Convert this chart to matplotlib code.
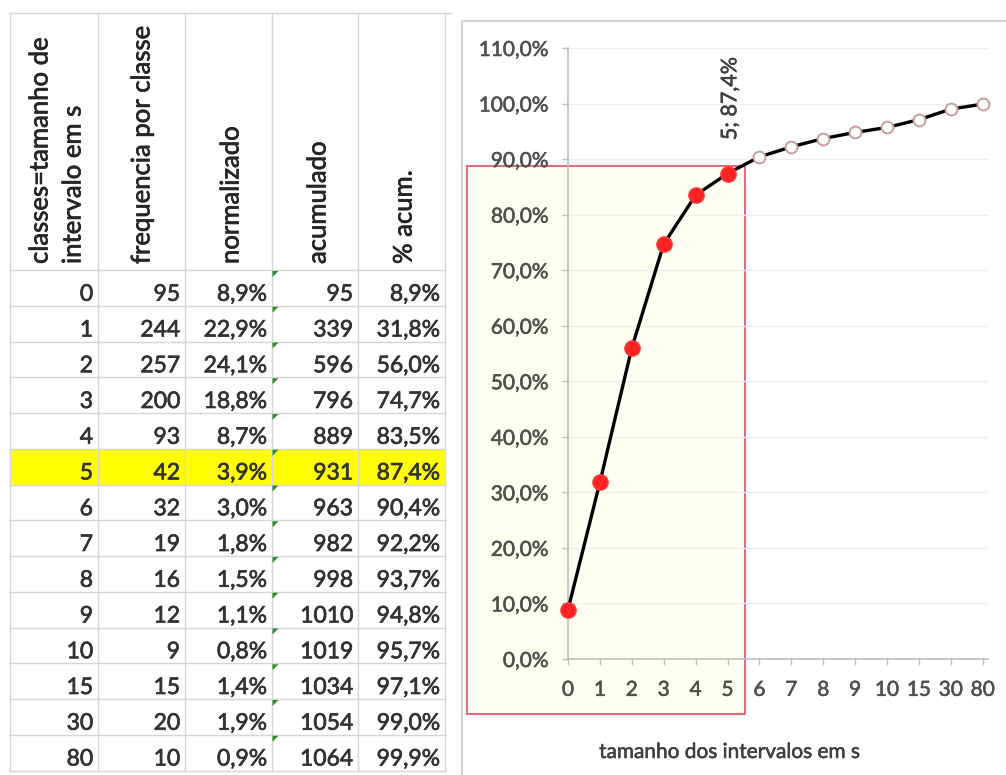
import matplotlib
matplotlib.use("Agg")
import matplotlib.pyplot as plt
import matplotlib.patheffects as pe
from matplotlib.lines import Line2D
from matplotlib.patches import Rectangle, Polygon
from matplotlib.ticker import FuncFormatter, FixedLocator, MultipleLocator

plt.rcParams['font.family'] = ['Lato', 'DejaVu Sans']

# ---- data -------------------------------------------------------------
classes = [0, 1, 2, 3, 4, 5, 6, 7, 8, 9, 10, 15, 30, 80]
freq = [95, 244, 257, 200, 93, 42, 32, 19, 16, 12, 9, 15, 20, 10]
normalizado = [8.9, 22.9, 24.1, 18.8, 8.7, 3.9, 3.0, 1.8, 1.5, 1.1, 0.8, 1.4, 1.9, 0.9]
acumulado = [95, 339, 596, 796, 889, 931, 963, 982, 998, 1010, 1019, 1034, 1054, 1064]
pct_acum = [8.9, 31.8, 56.0, 74.7, 83.5, 87.4, 90.4, 92.2, 93.7, 94.8, 95.7, 97.1, 99.0, 99.9]
headers = [["classes=tamanho de", "intervalo em s"], ["frequencia por classe"],
           ["normalizado"], ["acumulado"], ["% acum."]]
highlight_row = 5
x_title = "tamanho dos intervalos em s"


def pct_text(v):
    return f"{v:.1f}%".replace(".", ",")


def heavy(color, lw=0.5):
    # slightly thicker glyphs for the spreadsheet-style text
    return [pe.withStroke(linewidth=lw, foreground=color)]


W, H = 1006, 775
fig = plt.figure(figsize=(W / 100, H / 100), dpi=100)
fig.patch.set_facecolor("white")

# background canvas in pixel units (y downwards)
bg = fig.add_axes([0, 0, 1, 1], zorder=0)
bg.set_xlim(0, W)
bg.set_ylim(H, 0)
bg.axis("off")

# ---- spreadsheet table --------------------------------------------------
col_x = [10, 98, 185, 272, 358, 445]
head_top, head_bot, row_h = 13, 270, 35.75
n_rows = len(classes)
grid_c = "#d6d6d6"
txt_c = "#333333"

y0 = head_bot + highlight_row * row_h
bg.add_patch(Rectangle((col_x[0], y0), col_x[-1] - col_x[0], row_h,
                       facecolor="#ffff00", edgecolor="none", zorder=1))

bottom = head_bot + n_rows * row_h
for x in col_x:
    bg.add_line(Line2D([x, x], [head_top, bottom], color=grid_c, lw=1, zorder=2))
bg.add_line(Line2D([col_x[0], 452], [head_top, head_top], color=grid_c, lw=1, zorder=2))
for r in range(n_rows + 1):
    y = head_bot + r * row_h
    bg.add_line(Line2D([col_x[0], col_x[-1]], [y, y], color=grid_c, lw=1, zorder=2))

# rotated header labels
head_pos = [[40, 73], [142], [231], [318], [404]]
for lines, xs in zip(headers, head_pos):
    for s, x in zip(lines, xs):
        bg.text(x, 264, s, rotation=90, rotation_mode="anchor", ha="left",
                va="center", fontsize=18.5, color="#262626", zorder=3,
                path_effects=heavy("#262626"))

columns = [
    [str(v) for v in classes],
    [str(v) for v in freq],
    [pct_text(v) for v in normalizado],
    [str(v) for v in acumulado],
    [pct_text(v) for v in pct_acum],
]
for c, vals in enumerate(columns):
    for r, s in enumerate(vals):
        yb = head_bot + (r + 1) * row_h - 5
        bg.text(col_x[c + 1] - 5, yb, s, ha="right", va="baseline",
                fontsize=16.5, color=txt_c, zorder=3, path_effects=heavy(txt_c))

# small green corner markers in the "acumulado" column
for r in range(n_rows):
    yt = head_bot + r * row_h
    x = col_x[3]
    bg.add_patch(Polygon([(x + 0.5, yt + 1), (x + 6.5, yt + 1), (x + 0.5, yt + 7)],
                         closed=True, facecolor="#2f8f2f", edgecolor="none", zorder=3))

# ---- chart frame and highlight box --------------------------------------
bg.add_line(Line2D([462, 462, W], [H, 21, 21], color="#d4d4d4", lw=1.5, zorder=1))
bg.add_patch(Rectangle((467, 166), 278, 548, facecolor="#fefef3",
                       edgecolor="#e2707c", lw=1.5, zorder=1))
bg.text(730, 752, x_title, ha="center", va="center", fontsize=15,
        color="#404040", zorder=3, path_effects=heavy("#404040", 0.4))

# ---- cumulative curve -----------------------------------------------------
ax = fig.add_axes([568 / W, (H - 659) / H, 419.5 / W, 611 / H], zorder=2)
ax.set_facecolor("none")
idx = list(range(len(classes)))
yvals = [v / 100 for v in pct_acum]

ax.plot(idx, yvals, color="black", lw=2.4, zorder=3, clip_on=False)
ax.plot(idx[:highlight_row + 1], yvals[:highlight_row + 1], ls="none", marker="o",
        ms=11, mfc="#ff2424", mec="#ff3a3a", mew=1, zorder=4, clip_on=False)
ax.plot(idx[highlight_row + 1:], yvals[highlight_row + 1:], ls="none", marker="o",
        ms=8.5, mfc="white", mec="#c9a3a3", mew=1.5, zorder=4, clip_on=False)

ax.annotate(f"{classes[highlight_row]}; {pct_text(pct_acum[highlight_row])}",
            xy=(highlight_row, yvals[highlight_row]), xytext=(2, 24),
            textcoords="offset points", rotation=90, ha="center", va="bottom",
            fontsize=15.5, color="#404040", path_effects=heavy("#404040", 0.4))

ax.set_xlim(0, 13.15)
ax.set_ylim(0, 1.10)
ax.yaxis.set_major_locator(MultipleLocator(0.1))
ax.yaxis.set_major_formatter(FuncFormatter(lambda v, p: pct_text(v * 100)))
ax.xaxis.set_major_locator(FixedLocator(idx))
ax.set_xticklabels([str(c) for c in classes])

ax.grid(axis="y", color="#eeeeee", lw=1)
ax.set_axisbelow(True)
for s in ("top", "right"):
    ax.spines[s].set_visible(False)
for s in ("left", "bottom"):
    ax.spines[s].set_color("#bfbfbf")
    ax.spines[s].set_linewidth(1.2)
ax.tick_params(axis="both", direction="out", length=4, width=1, color="#bfbfbf",
               labelsize=15, labelcolor="#505050")
ax.tick_params(axis="y", pad=10)
ax.tick_params(axis="x", pad=11)
for lbl in ax.get_xticklabels() + ax.get_yticklabels():
    lbl.set_path_effects(heavy("#505050", 0.4))

fig.savefig("out.png", dpi=100, facecolor="white")
